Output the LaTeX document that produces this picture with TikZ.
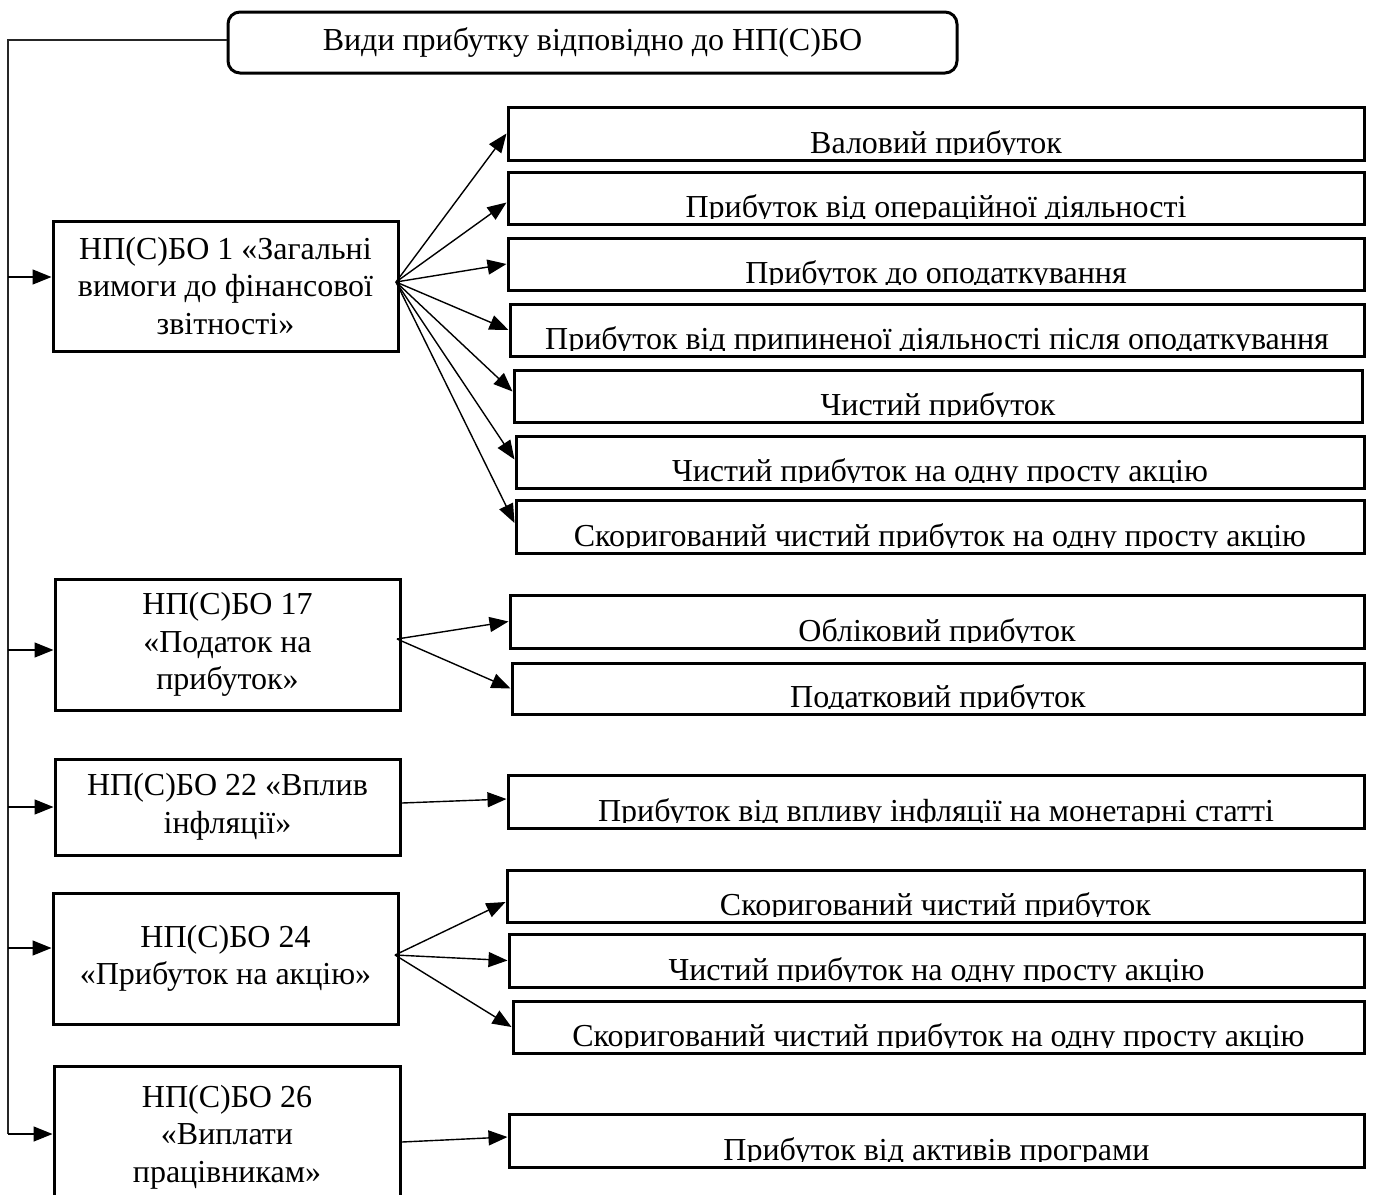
\documentclass[tikz,border=0pt]{standalone}
\usepackage{fontspec}
\setmainfont{Liberation Serif}
\usetikzlibrary{arrows.meta,calc}
\tikzset{
  txt/.style={font=\fontsize{32}{37.5}\selectfont, text=black},
  rb/.style={draw=black, line width=3pt, inner sep=0pt, fill=white},
  lb/.style={draw=black, line width=3pt, inner sep=0pt, fill=white, txt, align=center},
  rt/.style={txt, inner sep=0pt},
  conn/.style={line width=1.4pt, draw=black},
  arr/.style={conn, -{Triangle[length=19pt,width=15pt]}},
}
\newcommand\rbox[6]{%
  \node[rb, minimum width={#4-#2}, minimum height={#5-#3}] (#1) at ({(#2+#4)/2},{(#3+#5)/2}) {};
  \begin{scope}
    \clip ([yshift=7.5pt]#1.south west) rectangle (#1.north east);
    \node[rt, anchor=base] (#1t) at ([yshift=8pt]#1.south) {#6};
  \end{scope}}
\newcommand\lbox[6]{%
  \node[lb, minimum width={#4-#2}, minimum height={#5-#3}] (#1) at ({(#2+#4)/2},{(#3+#5)/2}) {#6};}
\begin{document}
\begin{tikzpicture}[x=1pt,y=-1pt]
\useasboundingbox (0,0) rectangle (1373,1194);
% top box
\node[draw=black, line width=3pt, rounded corners=12pt, minimum width=729pt, minimum height=61pt, inner sep=0pt, txt] (top) at (592.5,42.5) {Види прибутку відповідно до НП(С)БО};
% left boxes
\lbox{b1}{53}{221}{398}{351}{НП(С)БО 1 «Загальні\\вимоги до фінансової\\звітності»}
\lbox{b17}{55}{579}{400}{710}{НП(С)БО 17\\«Податок на\\прибуток»}
\lbox{b22}{55}{759}{400}{855}{НП(С)БО 22 «Вплив\\інфляції»}
\lbox{b24}{53}{893}{398}{1024}{НП(С)БО 24\\«Прибуток на акцію»}
\lbox{b26}{54}{1066}{400}{1208}{НП(С)БО 26\\«Виплати\\працівникам»}
% right boxes
\rbox{r1}{508}{107}{1364}{160}{Валовий прибуток}
\rbox{r2}{508}{172}{1364}{224}{Прибуток від операційної діяльності}
\rbox{r3}{508}{238}{1364}{290}{Прибуток до оподаткування}
\rbox{r4}{510}{304}{1364}{356}{Прибуток від припиненої діяльності після оподаткування}
\rbox{r5}{514}{370}{1362}{422}{Чистий прибуток}
\rbox{r6}{516}{436}{1364}{488}{Чистий прибуток на одну просту акцію}
\rbox{r7}{516}{500}{1364}{553}{Скоригований чистий прибуток на одну просту акцію}
\rbox{r8}{510}{595}{1364}{648}{Обліковий прибуток}
\rbox{r9}{512}{663}{1364}{714}{Податковий прибуток}
\rbox{r10}{508}{775}{1364}{828}{Прибуток від впливу інфляції на монетарні статті}
\rbox{r11}{507}{870}{1364}{922}{Скоригований чистий прибуток}
\rbox{r12}{509}{934}{1364}{987}{Чистий прибуток на одну просту акцію}
\rbox{r13}{513}{1001}{1364}{1053}{Скоригований чистий прибуток на одну просту акцію}
\rbox{r14}{509}{1114}{1364}{1167}{Прибуток від активів програми}
% trunk
\coordinate (k0) at (8,40);
\coordinate (k1) at (8,277);
\coordinate (k2) at (8,650);
\coordinate (k3) at (8,807);
\coordinate (k4) at (8,948);
\coordinate (k5) at (8,1134);
\draw[conn, draw=black!85] (top.west |- k0) -- (k0) -- (k5);
\draw[arr] (k1) -- (k1 -| b1.west);
\draw[arr] (k2) -- (k2 -| b17.west);
\draw[arr] (k3) -- (k3 -| b22.west);
\draw[arr] (k4) -- (k4 -| b24.west);
\draw[arr] (k5) -- (k5 -| b26.west);
% fans
\coordinate (o1) at (396,282);
\draw[arr] (o1) -- (r1.west);
\draw[arr] (o1) -- ([yshift=-4.5pt]r2.west);
\draw[arr] (o1) -- (r3.west);
\draw[arr] (o1) -- (r4.west);
\draw[arr] (o1) -- ([yshift=4.5pt]r5.west);
\draw[arr] (o1) -- ([yshift=2.5pt]r6.west);
\draw[arr] (o1) -- ([yshift=3.5pt]r7.west);
\coordinate (o17) at (397,639);
\draw[arr] (o17) -- (r8.west);
\draw[arr] (o17) -- (r9.west);
\coordinate (o22) at (402,803);
\draw[arr] (o22) -- ([yshift=2.5pt]r10.west);
\coordinate (o24) at (395,955);
\draw[arr] (o24) -- ([yshift=-6pt]r11.west);
\draw[arr] (o24) -- (r12.west);
\draw[arr] (o24) -- (r13.west);
\coordinate (o26) at (402,1142);
\draw[arr] (o26) -- ([yshift=3.5pt]r14.west);
\end{tikzpicture}
\end{document}
